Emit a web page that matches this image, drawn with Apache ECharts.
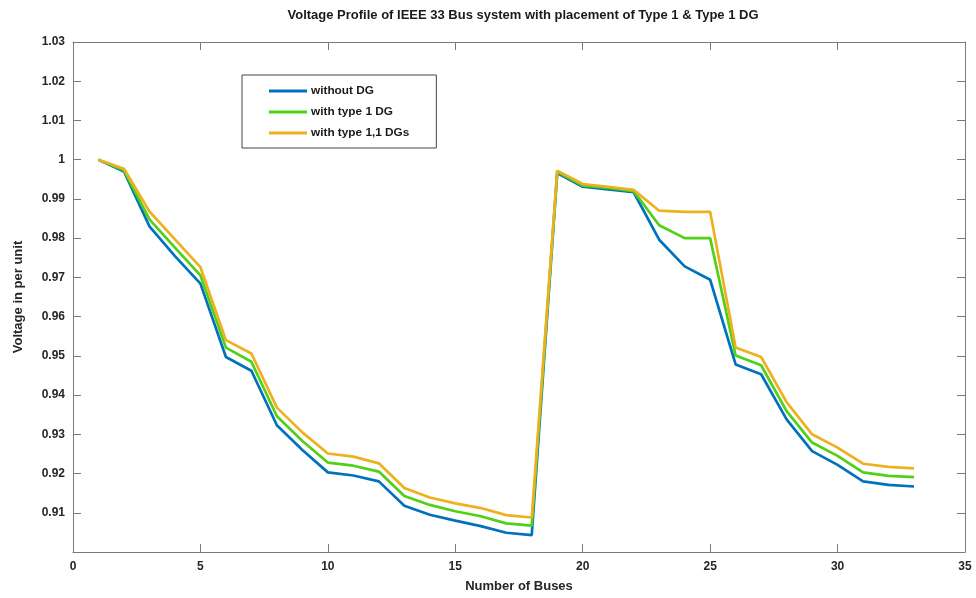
<!DOCTYPE html>
<html><head><meta charset="utf-8">
<script src="https://cdn.jsdelivr.net/npm/echarts@6/dist/echarts.min.js"></script>
<style>html,body{margin:0;padding:0;background:#fff}#c{width:976px;height:598px}</style>
</head><body><div id="c"></div>
<script>
const buses = Array.from({length: 33}, (_, i) => i + 1);
const withoutDG = [1.0000,0.9970,0.9830,0.9754,0.9684,0.9497,0.9462,0.9323,0.9260,0.9203,0.9195,0.9180,0.9118,0.9095,0.9080,0.9066,0.9049,0.9043,0.9966,0.9931,0.9924,0.9917,0.9796,0.9728,0.9694,0.9478,0.9453,0.9338,0.9257,0.9222,0.9180,0.9171,0.9167];
const withType1 = [1.0000,0.9973,0.9848,0.9776,0.9705,0.9521,0.9485,0.9346,0.9283,0.9228,0.9220,0.9205,0.9143,0.9120,0.9104,0.9091,0.9073,0.9067,0.9969,0.9934,0.9928,0.9920,0.9833,0.9800,0.9800,0.9501,0.9476,0.9359,0.9279,0.9245,0.9203,0.9194,0.9191];
const withType11 = [1.0000,0.9977,0.9868,0.9797,0.9726,0.9540,0.9506,0.9368,0.9305,0.9251,0.9243,0.9226,0.9163,0.9139,0.9124,0.9112,0.9094,0.9088,0.9972,0.9938,0.9931,0.9923,0.9870,0.9867,0.9867,0.9521,0.9497,0.9382,0.9300,0.9266,0.9225,0.9217,0.9213];
const seriesNames = ['without DG','with type 1 DG','with type 1,1 DGs'];
const colors = ['#0072BD','#52D017','#EDB120'];

const chart = echarts.init(document.getElementById('c'));
const font = 'Arial, "Liberation Sans", sans-serif';
const axisCol = '#7a7a7a';
const lab = v => parseFloat(v.toFixed(2)).toString();
function mk(name, data, i){
  return {name, type:'line', data: buses.map((b,k)=>[b,data[k]]), showSymbol:false, symbol:'none',
    lineStyle:{width:2.7,color:colors[i]}, itemStyle:{color:colors[i]}, z:2+i};
}
const tick = () => ({show:true,inside:true,length:8,lineStyle:{color:axisCol,width:1}});
chart.setOption({
  animation:false,
  title:{text:'Voltage Profile of IEEE 33 Bus system with placement of Type 1 & Type 1 DG', left:518, top:4, textAlign:'center',
    textStyle:{fontFamily:font,fontSize:13,fontWeight:'bold',color:'#1a1a1a'}},
  grid:{left:73,right:11,top:42,bottom:46},
  legend:{left:242,top:75,orient:'vertical',itemGap:9,itemWidth:38,itemHeight:3,
    padding:[10,27,9,27],borderColor:'#444',borderWidth:1,backgroundColor:'#fff',
    icon:'rect',
    textStyle:{fontFamily:font,fontSize:11.8,fontWeight:'bold',color:'#1a1a1a',padding:[0,0,0,-1]},
    data:seriesNames},
  xAxis:[{type:'value',min:0,max:35,interval:5,position:'bottom',
    name:'Number of Buses',nameLocation:'middle',nameGap:28,
    nameTextStyle:{fontFamily:font,fontSize:13,fontWeight:'bold',color:'#262626'},
    axisLine:{show:true,onZero:false,lineStyle:{color:axisCol,width:1}},
    axisTick:tick(),
    axisLabel:{fontFamily:font,fontSize:12,fontWeight:'bold',color:'#262626',margin:9},
    splitLine:{show:false}},
   {type:'value',min:0,max:35,interval:5,position:'top',
    axisLine:{show:true,onZero:false,lineStyle:{color:axisCol,width:1}},
    axisTick:tick(),
    axisLabel:{show:false},splitLine:{show:false}}],
  yAxis:[{type:'value',min:0.9,max:1.03,interval:0.01,position:'left',
    name:'Voltage in per unit',nameLocation:'middle',nameGap:48,
    nameTextStyle:{fontFamily:font,fontSize:13,fontWeight:'bold',color:'#262626'},
    axisLine:{show:true,onZero:false,lineStyle:{color:axisCol,width:1}},
    axisTick:tick(),
    axisLabel:{fontFamily:font,fontSize:12,fontWeight:'bold',color:'#262626',margin:8,showMinLabel:false,formatter:lab},
    splitLine:{show:false}},
   {type:'value',min:0.9,max:1.03,interval:0.01,position:'right',
    axisLine:{show:true,onZero:false,lineStyle:{color:axisCol,width:1}},
    axisTick:tick(),
    axisLabel:{show:false},splitLine:{show:false}}],
  series:[mk(seriesNames[0],withoutDG,0),mk(seriesNames[1],withType1,1),mk(seriesNames[2],withType11,2)]
});
</script></body></html>
